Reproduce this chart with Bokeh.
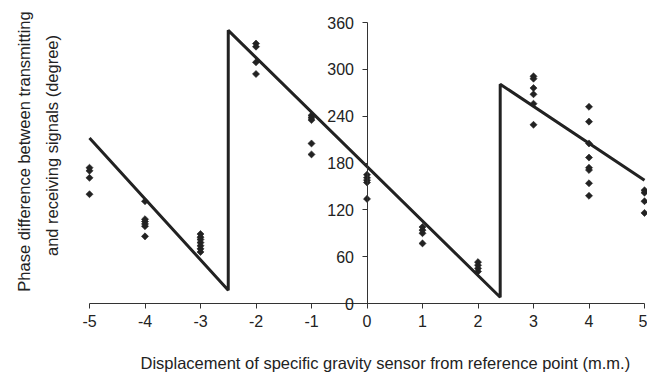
import math
from bokeh.plotting import figure
from bokeh.models import LinearAxis, Label, Range1d, FixedTicker
from bokeh.embed import file_html
from bokeh.resources import INLINE

# Fitted sawtooth line (vertices)
line_x = [-5, -2.5, -2.5, 2.4, 2.4, 5]
line_y = [212, 17, 350, 8, 281, 158]

# Measured phase differences per displacement
pts_m5 = [174, 170, 161, 140]
pts_m4 = [131, 108, 105, 102, 99, 86]
pts_m3 = [89, 85, 82, 78, 74, 70, 66]
pts_m2 = [333, 329, 309, 294]
pts_m1 = [241, 238, 235, 205, 191]
pts_0 = [165, 161, 158, 155, 134]
pts_1 = [98, 94, 90, 77]
pts_2 = [53, 49, 45, 41]
pts_3 = [291, 288, 276, 268, 256, 229]
pts_4 = [252, 233, 205, 187, 174, 171, 154, 138]
pts_5 = [145, 142, 131, 116]

displacements = [-5, -4, -3, -2, -1, 0, 1, 2, 3, 4, 5]
groups = [pts_m5, pts_m4, pts_m3, pts_m2, pts_m1, pts_0, pts_1, pts_2, pts_3, pts_4, pts_5]

x_ticks = [-5, -4, -3, -2, -1, 0, 1, 2, 3, 4, 5]
y_ticks = [0, 60, 120, 180, 240, 300, 360]

xlabel = "Displacement of specific gravity sensor from reference point (m.m.)"
ylabel1 = "Phase difference between transmitting"
ylabel2 = "and receiving signals (degree)"

FONT = "Liberation Sans"
INK = "#222222"
AX = "#333333"

W, H = 647, 374
# pixel placement of the axes box inside the canvas
left_px, right_px, top_px, bottom_px = 89, 644, 22, 303
xppu = (right_px - left_px) / (x_ticks[-1] - x_ticks[0])
yppu = (bottom_px - top_px) / (y_ticks[-1] - y_ticks[0])
x0 = x_ticks[0] - left_px / xppu
x1 = x_ticks[-1] + (W - right_px) / xppu
y0 = y_ticks[0] - (H - bottom_px) / yppu
y1 = y_ticks[-1] + top_px / yppu

p = figure(width=W, height=H, output_backend="svg", toolbar_location=None,
           x_range=Range1d(x0, x1), y_range=Range1d(y0, y1),
           x_axis_location=None, y_axis_location=None,
           min_border=0, min_border_left=0, min_border_right=0,
           min_border_top=0, min_border_bottom=0)
p.outline_line_color = None
p.background_fill_color = "white"
p.border_fill_color = "white"
p.grid.visible = False


def style_axis(a, standoff):
    a.minor_tick_line_color = None
    a.major_tick_in = 0
    a.major_tick_out = 5
    a.axis_line_color = AX
    a.major_tick_line_color = AX
    a.major_label_text_font = FONT
    a.major_label_text_font_size = "16px"
    a.major_label_text_color = INK
    a.major_label_standoff = standoff


xa = LinearAxis(fixed_location=0, ticker=FixedTicker(ticks=x_ticks),
                bounds=(x_ticks[0], x_ticks[-1]),
                major_label_overrides={t: str(t) for t in x_ticks})
style_axis(xa, 6)
p.add_layout(xa, "below")

ya = LinearAxis(fixed_location=0, ticker=FixedTicker(ticks=y_ticks),
                bounds=(y_ticks[0], y_ticks[-1]))
style_axis(ya, 8)
p.add_layout(ya, "left")

p.line(line_x, line_y, line_width=3, line_color=INK)

xs, ys = [], []
for d, g in zip(displacements, groups):
    for v in g:
        xs.append(d)
        ys.append(v)
p.scatter(xs, ys, marker="square", angle=math.pi / 4, size=5.0,
          fill_color=INK, line_color=INK, line_width=0.6)

common = dict(text_font=FONT, text_font_size="16.5px", text_color=INK,
              x_units="screen", y_units="screen")
p.add_layout(Label(x=140, y=H - 362, text=xlabel, text_align="left",
                   text_baseline="middle", **common))
p.add_layout(Label(x=23, y=H - 151, text=ylabel1, angle=math.pi / 2,
                   text_align="center", text_baseline="middle", **common))
p.add_layout(Label(x=51, y=H - 145, text=ylabel2, angle=math.pi / 2,
                   text_align="center", text_baseline="middle", **common))

open("out.html", "w").write(file_html(p, INLINE))
